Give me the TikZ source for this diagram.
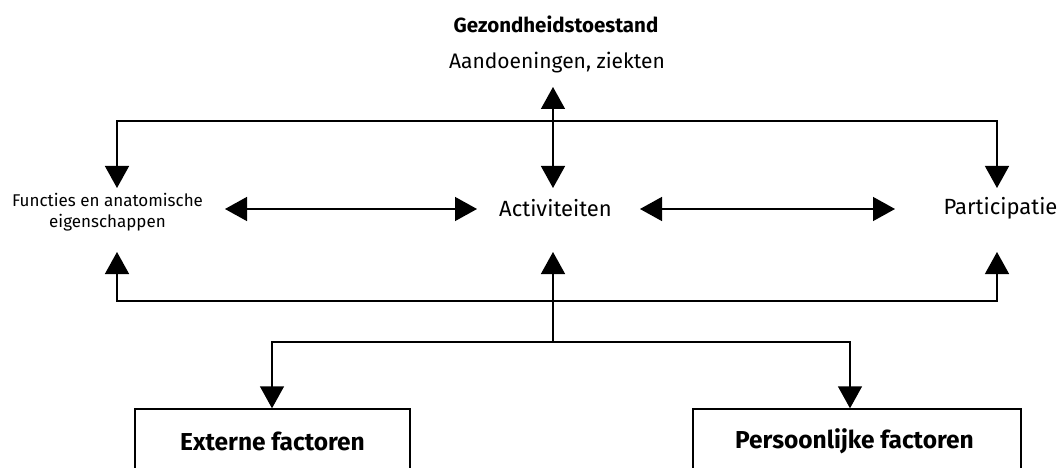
\documentclass[tikz,border=0pt]{standalone}
\usepackage{fontspec}
\setmainfont{Fira Sans}
\usetikzlibrary{arrows.meta}
\begin{document}
\begin{tikzpicture}[x=1pt,y=-1pt,
  conn/.style={line width=1.4pt,draw=black},
  tip/.style={-{Triangle[width=24pt,length=22pt]}},
  dtip/.style={{Triangle[width=24pt,length=22pt]}-{Triangle[width=24pt,length=22pt]}},
  lbl/.style={inner sep=0pt,font=\fontsize{22}{26}\selectfont},
  boxlbl/.style={inner sep=0pt,font=\fontsize{24.5}{28}\selectfont\bfseries},
  factorbox/.style={draw,line width=1.4pt,inner sep=0pt},
]
\clip (0,0) rectangle (1061,468);
\fill[white] (0,0) rectangle (1061,468);
% texts
\node[inner sep=0pt,font=\fontsize{20.5}{24}\selectfont\bfseries] (gez) at (556,24) {Gezondheidstoestand};
\node[lbl,font=\fontsize{21}{26}\selectfont] (aand) at (557,63) {Aandoeningen, ziekten};
\node[lbl] (act) at (555.5,208.5) {Activiteiten};
\node[lbl] (part) at (1000.5,208.5) {Participatie};
\node[inner sep=0pt,align=center,font=\fontsize{17}{21}\selectfont] (func) at (107.5,212.5) {Functies en anatomische\\eigenschappen};
% boxes
\node[factorbox,minimum width=275pt,minimum height=120pt] (extbox) at (272.5,469) {};
\node[factorbox,minimum width=328pt,minimum height=120pt] (persbox) at (857,469) {};
\node[boxlbl] (ext) at (272.5,441) {Externe factoren};
\node[boxlbl] (pers) at (854.5,441) {Persoonlijke factoren};
% coordinates
\coordinate (cTop) at (553,87);
\coordinate (cActT) at (553,188);
\coordinate (cActB) at (553,252);
\coordinate (tl) at (117,121);
\coordinate (tr) at (997,121);
\coordinate (fT) at (117,188);
\coordinate (fB) at (117,252);
\coordinate (pT) at (997,188);
\coordinate (pB) at (997,252);
\coordinate (bl) at (117,301);
\coordinate (br) at (997,301);
\coordinate (bc) at (553,301);
\coordinate (mc) at (553,342);
\coordinate (ml) at (272,342);
\coordinate (mr) at (850,342);
\coordinate (fR) at (225,209);
\coordinate (aL) at (477,209);
\coordinate (aR) at (640,209);
\coordinate (pL) at (895,209);
% connectors
\draw[conn,dtip] (cTop) -- (cActT);
\draw[conn,tip] (tl -| cTop) -- (tl) -- (fT);
\draw[conn,tip] (tr -| cTop) -- (tr) -- (pT);
\draw[conn,dtip] (fR) -- (aL);
\draw[conn,dtip] (aR) -- (pL);
\draw[conn,tip] (mc) -- (cActB);
\draw[conn,tip] (bc) -- (bl) -- (fB);
\draw[conn,tip] (bc) -- (br) -- (pB);
\draw[conn,tip] (mc) -- (ml) -- (extbox.north -| ml);
\draw[conn,tip] (mc) -- (mr) -- (persbox.north -| mr);
\end{tikzpicture}
\end{document}
